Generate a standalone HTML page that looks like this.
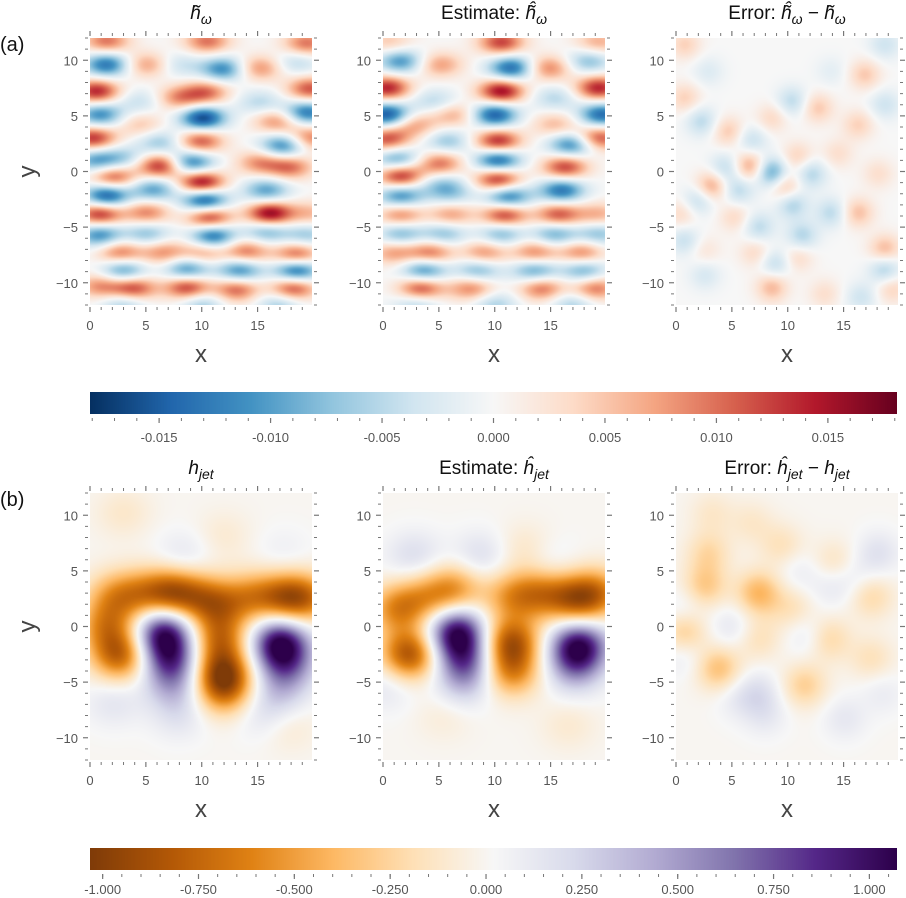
<!DOCTYPE html>
<html><head><meta charset="utf-8">
<style>
body{margin:0;background:#fff;width:906px;height:898px;overflow:hidden;position:relative;font-family:"Liberation Sans",sans-serif;}
canvas{position:absolute;}
svg{position:absolute;left:0;top:0;}
.t{position:absolute;font-size:19px;color:#111;white-space:nowrap;transform:translateX(-50%);}
.t i{font-family:"Liberation Sans",sans-serif;font-style:italic;}
.t sub{font-size:14px;}
.lab{position:absolute;font-size:20px;color:#111;}
</style></head><body>
<div class="lab" style="left:0;top:34px">(a)</div>
<div class="lab" style="left:0;top:489px">(b)</div>
<div class="t" style="left:201px;top:3px"><i>h̃<sub>ω</sub></i></div>
<div class="t" style="left:494px;top:3px">Estimate: <i>ĥ̃<sub>ω</sub></i></div>
<div class="t" style="left:787px;top:3px">Error: <i>ĥ̃<sub>ω</sub></i> − <i>h̃<sub>ω</sub></i></div>
<div class="t" style="left:201px;top:458px"><i>h<sub>jet</sub></i></div>
<div class="t" style="left:494px;top:458px">Estimate: <i>ĥ<sub>jet</sub></i></div>
<div class="t" style="left:787px;top:458px">Error: <i>ĥ<sub>jet</sub></i> − <i>h<sub>jet</sub></i></div>
<svg id="ov" width="906" height="898"></svg>
<script>
// ---------- data: blob centers (x,y in data units) and amplitudes ----------
const p1X=[1.5,10.5,19.4,1.5,5.1,8,11.9,15.2,18.5,0.6,4.5,10.4,8,15.2,19.7,0.9,4.5,10.1,16.7,19.4,0.3,6.3,9.9,17.3,19.7,0.6,3,6.3,9.1,15.2,17.9,2.1,5.7,10,15.8,1.5,10.3,0.9,5.1,10.7,16.1,19.7,0.9,5.1,11,15.8,19.4,2.7,6.6,10.1,14,18.5,3,8.7,13.4,18.5,0.9,3.9,8.7,13.1,18.2,3,10,17];
const p1Y=[11.7,11.7,11.5,9.6,9.6,9.6,9.2,9.3,9.8,7.2,6.3,7.1,6.6,6.2,7.4,5.1,4.2,4.8,4.5,5.3,3,2.6,2.7,2.3,3,1,1.2,0.5,0.8,0.8,0.4,-0.5,-1.6,-1,-1.7,-2.2,-2.6,-3.8,-3.7,-4.1,-3.8,-3.8,-5.7,-5.6,-5.8,-5.4,-5.7,-7.3,-7.3,-7.3,-7.2,-7.5,-8.9,-8.8,-8.9,-8.9,-10.3,-10.5,-10.4,-10.6,-10.5,-11.9,-11.9,-11.9];
const p1V=[0.6,0.6,0.6,-0.8,0.45,-0.25,-0.7,0.5,-0.3,0.85,-0.25,0.6,0.5,-0.3,0.7,-0.7,0.3,-1.0,0.5,-0.8,0.8,-0.4,0.7,-0.75,0.6,-0.6,-0.35,0.85,-0.8,0.5,0.6,0.7,-0.6,1.0,-0.6,-0.95,-1.0,0.85,0.55,0.85,1.0,0.35,-0.7,-0.45,-0.85,-0.5,-0.4,0.6,0.5,0.45,0.6,0.7,-0.65,-0.7,-0.7,-0.9,0.5,0.75,0.8,0.65,0.75,-0.4,-0.4,-0.4];

const p2X=[10.6,19.3,0.6,1.6,5.1,11.5,14.8,18.4,0.4,4.6,10.6,15.4,19.3,0.4,6.4,10,15.4,19.6,0.4,2.8,5.8,10.3,16.9,19.3,1.3,5.1,10.3,16.3,1.6,5.2,10.3,16,1.6,11.2,6.1,1.6,6.1,10.9,15.7,19.3,1.6,5.5,10.6,15.4,19.3,4.3,9.1,13.6,17.8,1,3.7,8.5,13.6,18,3.4,7.9,14.2,19,3,10,17];
const p2Y=[11.6,11.6,11.6,9.9,9.6,9.3,9.3,9.9,7.5,6.3,7.2,6.6,7.5,5.1,5.1,5.1,4.2,5.1,2.9,4.2,2.7,2.7,2.4,3,1.1,0.7,1,0.4,-0.4,-1.1,-0.7,-1.7,-2.2,-2.3,-2.0,-3.9,-3.9,-3.9,-3.9,-3.9,-5.6,-5.6,-5.6,-5.6,-5.6,-7.3,-7.3,-7.3,-7.3,-7.3,-8.9,-8.9,-8.9,-8.9,-10.5,-10.5,-10.5,-10.5,-11.9,-11.9,-11.9];
const p2V=[0.75,0.4,0.3,-0.65,0.45,-0.85,0.55,-0.45,0.85,-0.3,0.95,-0.3,0.85,-0.95,0.4,-0.9,0.35,-0.85,0.7,0.45,-0.4,0.85,-0.75,0.75,-0.6,0.6,-0.9,0.75,0.85,-0.35,0.85,-0.8,-0.7,-0.8,-0.35,0.55,0.45,0.8,0.7,0.4,-0.5,-0.45,-0.5,-0.55,-0.45,0.6,0.5,0.55,0.55,0.45,-0.7,-0.5,-0.6,-0.55,0.75,0.55,0.6,0.6,-0.35,-0.35,-0.35];

const p3X=[0.8,16.9,10.4,12.7,2.3,4.7,8.6,6.8,0.8,16.3,18.7,10.9,14.5,4.4,6.6,8.6,12.1,3.2,9.8,5.6,2,10.4,13.9,16.3,18.1,0.5,5.3,7.4,11.3,0.8,7.1,10.9,8.9,18.7,18.7,2.6,8.6,13.3,16.6,19.3,2.6,2.9,13.9,18.7];
const p3Y=[11.4,8.7,6.3,5.7,4.5,3.6,4.8,2.8,6.6,4.2,6,1.3,1.6,0.3,0.5,-0.1,-0.2,-1.3,-1.4,-1.7,-2.6,-2.9,-3.7,-3.7,-0.2,-3.8,-4.1,-5,-5.8,-6.2,-7.3,-7.7,-8.3,-7,-8.8,-9.3,-10.4,-11,-11.3,-10.5,-7.1,9,9,11.4];
const p3V=[0.35,0.4,-0.4,0.4,-0.4,0.4,0.3,-0.35,0.35,0.35,-0.3,0.35,0.25,-0.4,0.6,-0.8,-0.45,0.6,0.5,-0.4,-0.4,-0.5,-0.4,0.45,0.25,0.3,0.3,-0.4,-0.45,-0.35,0.3,0.3,-0.4,0.5,-0.5,-0.25,0.5,0.25,-0.3,0.35,0.2,-0.2,-0.15,-0.3];

const p4X=[7.2,17.6,2.1,11.6,14.6,9.6,4.5,2.7,1.5,11.9,11.6,12,6.6,7.2,7.5,17,17.6,17,2.1,8,15.5,17.6,3,11.9,8.4,17.3,19.7];
const p4Y=[3,2.6,2.7,1.9,2.7,2.7,2.9,-2.6,0,-4.1,-1.1,-5.9,-0.5,-2.9,-5.3,-1.4,-3.5,-5.9,-6.8,-8,-8,-8.9,10.2,8.1,6.3,6.6,2.5];
const p4V=[-0.7,-0.65,-0.4,-0.5,-0.45,-0.4,-0.4,-0.75,-0.5,-0.8,-0.6,-0.5,0.95,0.7,0.35,1.0,0.5,0.25,0.15,0.15,0.15,-0.12,-0.12,-0.1,0.15,0.08,-0.45];

const p5X=[1.3,6.4,11.5,17.2,14.2,19.3,3.9,2.4,11.5,11.5,6.6,7.3,7.3,17.5,17.2,2.8,8.8,14.8,0.4,12.7,16.6,5.5];
const p5Y=[1.6,3.3,2.7,2.4,3,3,2.6,-2.5,-1.4,-4.1,-0.5,-2.9,-5,-1.7,-3.8,6.3,6.3,5.7,-5.3,6.9,-8.9,-8];
const p5V=[-0.55,-0.5,-0.45,-0.65,-0.5,-0.5,-0.35,-0.85,-0.8,-0.55,1.0,0.6,0.3,1.0,0.4,0.2,0.2,0.12,0.15,-0.15,-0.1,-0.08];

const p6X=[2.6,2.9,7.4,0.8,3.8,11.5,13.6,17.5,17.5,14.2,9.5,3.2,6.8,7.4,10.4,18.1,11.9,7.4,5,0.8,13.9,15.1,0.8,8,16,5.5,11,18.5];
const p6Y=[3.6,6.6,3,-0.5,-3.8,-5.3,-1.1,2.7,-2.9,5.7,7.2,10.2,9.3,-1.1,1.6,6.6,-0.8,-5.9,0,1.6,3.6,-8.3,-2.6,-8,4.5,-6.5,5,-6];
const p6V=[-0.3,-0.22,-0.4,-0.3,-0.35,-0.27,-0.25,-0.22,-0.17,-0.17,-0.17,-0.12,-0.12,-0.17,-0.17,0.17,0.15,0.17,0.14,0.12,0.12,0.13,0.12,0.12,0.1,0.1,0.1,0.1];

const cbTopTicks=[-0.015,-0.010,-0.005,0.000,0.005,0.010,0.015];
const cbTopLabels=["-0.015","-0.010","-0.005","0.000","0.005","0.010","0.015"];
const cbBotTicks=[-1,-0.75,-0.5,-0.25,0,0.25,0.5,0.75,1];
const cbBotLabels=["-1.000","-0.750","-0.500","-0.250","0.000","0.250","0.500","0.750","1.000"];
const axTicks=[0,5,10,15];
const axLabels=["0","5","10","15"];
const ayTicks=[10,5,0,-5,-10];
const ayLabels=["10","5","0","\u22125","\u221210"];

// ---------- layout & scales ----------
const PW=222,PH=267,XMAX=19.87,YMIN=-12,YMAX=12;
const lefts=[90,383,676], tops=[38,493];
const RdBu=["#053061","#2166ac","#4393c3","#92c5de","#d1e5f0","#f7f7f7","#fddbc7","#f4a582","#d6604d","#b2182b","#67001f"];
const PuOr=["#7f3b08","#b35806","#e08214","#fdb863","#fee0b6","#f7f7f7","#d8daeb","#b2abd2","#8073ac","#542788","#2d004b"];
function hex(h){return [parseInt(h.substr(1,2),16),parseInt(h.substr(3,2),16),parseInt(h.substr(5,2),16)];}
const RdBuC=RdBu.map(hex),PuOrC=PuOr.map(hex);
function cmap(c,t){t=Math.max(0,Math.min(1,t));const f=t*10,i=Math.min(9,Math.floor(f)),r=f-i;
 return [0,1,2].map(k=>Math.round(c[i][k]+(c[i+1][k]-c[i][k])*r));}
function sx(x,l){return l+x/XMAX*PW;}
function sy(y,t){return t+(YMAX-y)/(YMAX-YMIN)*PH;}

const panels=[
 {X:p1X,Y:p1Y,V:p1V,gx:1.45,gy:0.8,amp:0.0165,c:RdBuC,lo:-0.0181,hi:0.0181,l:lefts[0],t:tops[0],n:'heatmap-truth-omega'},
 {X:p2X,Y:p2Y,V:p2V,gx:1.45,gy:0.8,amp:0.0165,c:RdBuC,lo:-0.0181,hi:0.0181,l:lefts[1],t:tops[0],n:'heatmap-estimate-omega'},
 {X:p3X,Y:p3Y,V:p3V,gx:1.0,gy:0.95,amp:0.012,c:RdBuC,lo:-0.0181,hi:0.0181,l:lefts[2],t:tops[0],n:'heatmap-error-omega'},
 {X:p4X,Y:p4Y,V:p4V,gx:1.8,gy:1.6,amp:1.0,c:PuOrC,lo:-1.033,hi:1.072,l:lefts[0],t:tops[1],n:'heatmap-truth-jet'},
 {X:p5X,Y:p5Y,V:p5V,gx:1.8,gy:1.6,amp:1.0,c:PuOrC,lo:-1.033,hi:1.072,l:lefts[1],t:tops[1],n:'heatmap-estimate-jet'},
 {X:p6X,Y:p6Y,V:p6V,gx:1.4,gy:1.4,amp:1.0,c:PuOrC,lo:-1.033,hi:1.072,l:lefts[2],t:tops[1],n:'heatmap-error-jet'}
];
panels.forEach(p=>{
 const cv=document.createElement('canvas');cv.width=PW;cv.height=PH;
 cv.style.left=p.l+'px';cv.style.top=p.t+'px';
 
 
 document.body.insertBefore(cv,document.getElementById('ov'));
 const ctx=cv.getContext('2d'),img=ctx.createImageData(PW,PH),d=img.data;
 const kx=1/(2*p.gx*p.gx),ky=1/(2*p.gy*p.gy);
 for(let j=0;j<PH;j++){const y=YMAX-(j+0.5)/PH*(YMAX-YMIN);
  for(let i=0;i<PW;i++){const x=(i+0.5)/PW*XMAX;let v=0;
   for(let b=0;b<p.X.length;b++){const dx=x-p.X[b],dy=y-p.Y[b];const e=dx*dx*kx+dy*dy*ky;if(e<14)v+=p.V[b]*Math.exp(-e);}
   v*=p.amp;const col=cmap(p.c,(v-p.lo)/(p.hi-p.lo));const o=(j*PW+i)*4;
   d[o]=col[0];d[o+1]=col[1];d[o+2]=col[2];d[o+3]=255;}}
 ctx.putImageData(img,0,0);
});

// colorbars
function colorbar(top,c,name){const cv=document.createElement('canvas');cv.width=807;cv.height=22;
 cv.style.left='90px';cv.style.top=top+'px';
 
 
 document.body.insertBefore(cv,document.getElementById('ov'));
 const ctx=cv.getContext('2d');for(let i=0;i<807;i++){const col=cmap(c,i/806);ctx.fillStyle=`rgb(${col})`;ctx.fillRect(i,0,1,22);}}
colorbar(392,RdBuC,'colorbar-omega');colorbar(848,PuOrC,'colorbar-jet');

// axes overlay
const NS='http://www.w3.org/2000/svg',ov=document.getElementById('ov');
function el(tag,attrs,name,txt){const e=document.createElementNS(NS,tag);for(const a in attrs)e.setAttribute(a,attrs[a]);
 
 
 if(txt!==undefined)e.textContent=txt;ov.appendChild(e);return e;}
const TC='#777';
lefts.forEach((l,pi)=>tops.forEach((t,ri)=>{
 for(let v=0;v<=19;v++){const x=sx(v,l),maj=v%5==0,L=maj?5:3;
  el('line',{x1:x,x2:x,y1:t-2,y2:t-2-L,stroke:TC,'stroke-width':maj?1.2:1},'x-tick-top');
  el('line',{x1:x,x2:x,y1:t+PH+2,y2:t+PH+2+L,stroke:TC,'stroke-width':maj?1.2:1},'x-tick-bottom');}
 for(let v=-12;v<=12;v++){const y=sy(v,t),maj=v%5==0,L=maj?5:3;
  el('line',{x1:l-2,x2:l-2-L,y1:y,y2:y,stroke:TC,'stroke-width':maj?1.2:1},'y-tick-left');
  el('line',{x1:l+PW+2,x2:l+PW+2+L,y1:y,y2:y,stroke:TC,'stroke-width':maj?1.2:1},'y-tick-right');}
 axTicks.forEach((v,i)=>el('text',{x:sx(v,l),y:t+PH+25,'font-size':13,fill:'#555','text-anchor':'middle','font-family':'Liberation Sans'},'x-tick-label',axLabels[i]));
 ayTicks.forEach((v,i)=>el('text',{x:l-12,y:sy(v,t)+5,'font-size':13,fill:'#555','text-anchor':'end','font-family':'Liberation Sans'},'y-tick-label',ayLabels[i]));
 el('text',{x:l+PW/2,y:t+PH+57,'font-size':24,fill:'#444','text-anchor':'middle','font-family':'Liberation Sans'},'x-axis-title','x');
 if(pi==0)el('text',{x:0,y:0,'font-size':24,fill:'#444','text-anchor':'middle','font-family':'Liberation Sans',transform:`translate(35,${t+PH/2}) rotate(-90)`},'y-axis-title','y');
}));
function cbTicks(top,lo,hi,ticks,labels,minorStep,ly){
 const f=v=>90+(v-lo)/(hi-lo)*807;
 for(let v=Math.ceil(lo/minorStep)*minorStep;v<=hi;v+=minorStep)el('line',{x1:f(v),x2:f(v),y1:top+26,y2:top+29,stroke:TC},'colorbar-minor-tick');
 ticks.forEach((v,i)=>{el('line',{x1:f(v),x2:f(v),y1:top+26,y2:top+31,stroke:TC,'stroke-width':1.2},'colorbar-major-tick');
  el('text',{x:f(v),y:top+ly,'font-size':13,fill:'#555','text-anchor':'middle','font-family':'Liberation Sans'},'colorbar-tick-label',labels[i]);});
}
cbTicks(392,-0.0181,0.0181,cbTopTicks,cbTopLabels,0.001,50);
cbTicks(848,-1.033,1.072,cbBotTicks,cbBotLabels,0.05,46);
</script>
</body></html>
